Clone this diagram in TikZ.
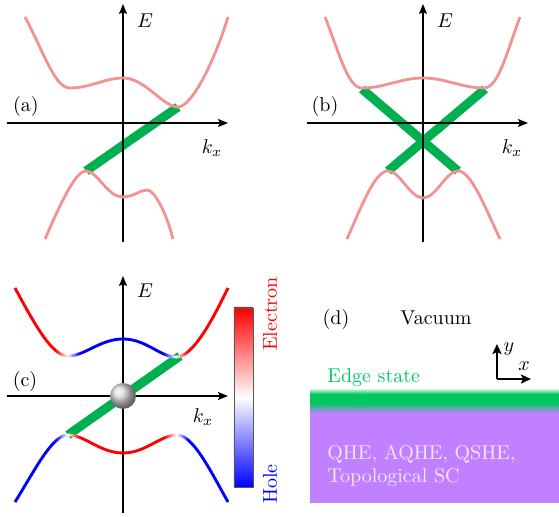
\documentclass[tikz,border=0pt]{standalone}
\usepackage{amsmath}
\usepackage{tikz}
\usetikzlibrary{
  arrows.meta
}
\definecolor{bandpink}{RGB}{244,145,145}
\definecolor{edgegreen}{RGB}{0,176,80}
\definecolor{stategreen}{RGB}{0,200,95}
\definecolor{tipurple}{RGB}{192,128,255}

\begin{document}
\begin{tikzpicture}[x=0.5pt, y=-0.5pt,
  axis/.style={line width=0.75pt, -{Stealth[length=5pt, width=4pt, inset=1pt]}},
  band/.style={line width=1.4pt},
  edge/.style={edgegreen, line width=4.5pt},
  lbl/.style={anchor=base, inner sep=0pt}]
  \useasboundingbox (0,0) rectangle (559,517);

  % (a)
  \coordinate (a-l) at (7,123);   \coordinate (a-r) at (228,123);
  \coordinate (a-b) at (123,242); \coordinate (a-t) at (123,4);
  \coordinate (a-e1) at (86,171); \coordinate (a-e2) at (178,107);
  \draw[edge] (a-e1) -- (a-e2);
  \draw[axis] (a-l) -- (a-r);
  \draw[axis] (a-b) -- (a-t);
  \draw[band, bandpink] (25,17) .. controls (45,55) and (55,88) .. (70,88)
    .. controls (90,88) and (105,78) .. (123,78)
    .. controls (145,78) and (163,107) .. (178,107)
    .. controls (192,107) and (215,60) .. (228,17);
  \draw[band, bandpink] (45,239) .. controls (60,205) and (75,171) .. (86,171)
    .. controls (97,171) and (108,197) .. (122,197)
    .. controls (134,197) and (140,190) .. (147,190)
    .. controls (155,190) and (167,215) .. (173,239);
  \node[lbl] (a-lab) at (26,112) {(a)};
  \node[lbl] (a-E) at (145,28) {$E$};
  \node[lbl] (a-k) at (212,154) {$k_x$};

  % (b)
  \coordinate (b-l) at (307,123); \coordinate (b-r) at (528,123);
  \coordinate (b-b) at (423,242); \coordinate (b-t) at (423,4);
  \coordinate (b-e1) at (362,89); \coordinate (b-e2) at (458,171);
  \coordinate (b-e3) at (485,89); \coordinate (b-e4) at (388,171);
  \draw[edge] (b-e1) -- (b-e2);
  \draw[edge] (b-e3) -- (b-e4);
  \draw[axis] (b-l) -- (b-r);
  \draw[axis] (b-b) -- (b-t);
  \draw[band, bandpink] (325,17) .. controls (340,55) and (348,88) .. (362,88)
    .. controls (385,88) and (400,78) .. (423,78)
    .. controls (446,78) and (461,88) .. (484,88)
    .. controls (498,88) and (506,55) .. (520,17);
  \draw[band, bandpink] (347,239) .. controls (362,205) and (375,171) .. (388,171)
    .. controls (400,171) and (410,198) .. (423,198)
    .. controls (436,198) and (446,171) .. (458,171)
    .. controls (471,171) and (484,205) .. (500,239);
  \node[lbl] (b-lab) at (325,112) {(b)};
  \node[lbl] (b-E) at (445,28) {$E$};
  \node[lbl] (b-k) at (512,154) {$k_x$};

  % (c)
  \coordinate (c-l) at (7,396);   \coordinate (c-r) at (228,396);
  \coordinate (c-b) at (123,513); \coordinate (c-t) at (123,276);
  \coordinate (c-e1) at (68,435); \coordinate (c-e2) at (180,356);
  \draw[edge] (c-e1) -- (c-e2);
  \draw[axis] (c-l) -- (c-r);
  \draw[axis] (c-b) -- (c-t);
  \foreach \xa in {12,14,...,230} {
    \pgfmathtruncatemacro\upin{(\xa+1>68)*(\xa+1<176)}
    \pgfmathtruncatemacro\uppc{100*min(1,abs(\xa+1-68)/12,abs(\xa+1-176)/12)}
    \pgfmathtruncatemacro\loin{(\xa+1>68)*(\xa+1<177)}
    \pgfmathtruncatemacro\lopc{100*min(1,abs(\xa+1-68)/12,abs(\xa+1-177)/12)}
    \ifnum\upin=1 \colorlet{upcol}{blue!\uppc!white}\else\colorlet{upcol}{red!\uppc!white}\fi
    \ifnum\loin=1 \colorlet{locol}{red!\lopc!white}\else\colorlet{locol}{blue!\lopc!white}\fi
    \begin{scope}
      \clip (\xa,270) rectangle (\xa+2.4,517);
      \draw[band, upcol] (15,288) .. controls (35,325) and (52,356) .. (68,356)
        .. controls (85,356) and (100,339) .. (123,339)
        .. controls (146,339) and (160,357) .. (176,357)
        .. controls (192,357) and (210,325) .. (228,288);
      \draw[band, locol] (15,502) .. controls (35,470) and (52,435) .. (68,435)
        .. controls (85,435) and (100,453) .. (123,453)
        .. controls (146,453) and (160,435) .. (177,435)
        .. controls (193,435) and (210,470) .. (228,502);
    \end{scope}
  }
  \node[circle, shading=ball, ball color=gray!30!white, minimum size=13pt, inner sep=0pt] (ball) at (123,396) {};
  \node[lbl] (c-lab) at (25,387) {(c)};
  \node[lbl] (c-E) at (145,298) {$E$};
  \node[lbl] (c-k) at (203,423) {$k_x$};
  \node[draw=gray!70!black, line width=0.4pt, shade, top color=red, bottom color=blue, middle color=white,
        minimum width=9.5pt, minimum height=89.5pt, inner sep=0pt] (cbar) at (243.5,397.5) {};
  \node[red, rotate=90, inner sep=0pt] (elec) at (270,314) {Electron};
  \node[blue, rotate=90, inner sep=0pt] (hole) at (270,484) {Hole};

  % (d)
  \node[lbl] (d-lab) at (336,325) {(d)};
  \node[lbl] (vac) at (436,325) {Vacuum};
  \coordinate (o) at (497,379);
  \coordinate (ox) at (531,379);
  \coordinate (oy) at (497,344);
  \draw[line width=1.1pt, -{Stealth[length=5pt, width=4.5pt, inset=1pt]}] (o) -- (ox);
  \draw[line width=1.1pt, -{Stealth[length=5pt, width=4.5pt, inset=1pt]}] (o) -- (oy);
  \node[inner sep=0pt] (ylab) at (509,349) {$y$};
  \node[inner sep=0pt] (xlab) at (524,366) {$x$};
  \node[anchor=base west, inner sep=0pt, text=stategreen] (edgelab) at (327,383) {Edge state};
  \shade[top color=stategreen!35!white, bottom color=stategreen] (310,390) rectangle (559,394);
  \fill[stategreen] (310,394) rectangle (559,403);
  \shade[top color=stategreen, bottom color=tipurple] (310,403) rectangle (559,413);
  \fill[tipurple] (310,413) rectangle (559,503);
  \node[anchor=base west, inner sep=0pt, text=white!82!tipurple] (ins1) at (327,460) {QHE, AQHE, QSHE,};
  \node[anchor=base west, inner sep=0pt, text=white!82!tipurple] (ins2) at (327,483) {Topological SC};
\end{tikzpicture}
\end{document}
